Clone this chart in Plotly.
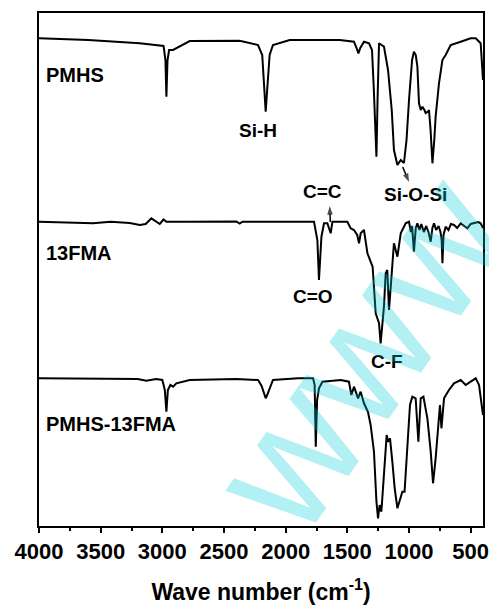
import plotly.graph_objects as go

# ---------------- data (wavenumber cm^-1, transmittance a.u., offset stacked) ----------------
pmhs_wn = [4000, 3600, 3183, 3021, 2990, 2975, 2967, 2958, 2945, 2913, 2880, 2778, 2373, 2224,
           2190, 2175, 2162, 2150, 2130, 2103, 1967, 1562, 1446, 1425, 1410, 1395, 1365, 1324,
           1300, 1285, 1270, 1264, 1255, 1248, 1243, 1203, 1170, 1140, 1122, 1094, 1067, 1041,
           1020, 1000, 975, 960, 945, 932, 919, 905, 891, 875, 865, 850, 838, 825, 810, 795,
           784, 757, 729, 703, 662, 581, 500, 459, 419, 405, 400]
pmhs_t = [487.7, 486, 482.7, 481, 480, 466, 429.3, 466, 476, 476, 478, 485, 485.3, 481,
          471, 436, 414.3, 436, 471, 481, 486, 486, 484.3, 478, 472.7, 478, 484.3, 482.7,
          476, 436, 376, 369.3, 426, 476, 482.7, 479.3, 456, 416, 376, 361, 366, 363,
          386, 426, 466, 474.3, 471, 459.3, 422.7, 416, 419.3, 416, 413, 414, 416, 396, 362.7, 386,
          409.3, 442.7, 466, 471, 481, 484.3, 487.7, 487.7, 482.7, 456, 446]

fma_wn = [4000, 3562, 3419, 3265, 3183, 3135, 3089, 3050, 3021, 2990, 2967, 2800, 2400, 2373,
          2350, 1770, 1743, 1730, 1710, 1689, 1662, 1635, 1621, 1500, 1473, 1446, 1420, 1405,
          1392, 1365, 1337, 1311, 1295, 1270, 1243, 1230, 1203, 1189, 1176, 1162, 1143, 1122,
          1094, 1067, 1027, 1000, 985, 975, 960, 945, 932, 915, 900, 880, 860, 840, 824, 810,
          797, 780, 760, 745, 735, 729, 720, 703, 680, 660, 635, 610, 581, 550, 527, 500,
          473, 440, 419, 405, 400]
fma_t = [304.3, 302.7, 304.3, 303, 301, 302, 307.7, 304, 302, 306.5, 304.3, 304.3, 304.5, 302.5,
         304.3, 304.3, 286, 246, 289.3, 302.7, 302.7, 292.7, 304.3, 304.3, 297.7, 296, 291, 282.7,
         292.7, 296, 272.7, 264.3, 259.3, 212.7, 202.7, 182.7, 219.3, 252.7, 256, 216, 246, 282.7,
         269.3, 292.7, 302.7, 304.3, 294, 300, 274.3, 298, 302.7, 296, 302, 294, 300, 293, 284.3, 298,
         302.7, 296, 300, 294, 286, 262.7, 291, 299.3, 296, 302, 301, 298, 302.7, 300, 297.7, 302,
         302.7, 304, 302.7, 299.3, 298]

mix_wn = [4000, 3500, 3200, 3130, 3050, 3000, 2980, 2967, 2955, 2935, 2913, 2886, 2778, 2400,
          2224, 2195, 2175, 2162, 2150, 2125, 2103, 1900, 1778, 1765, 1756, 1745, 1730, 1702,
          1554, 1487, 1467, 1446, 1413, 1392, 1365, 1333, 1311, 1284, 1264, 1251, 1238, 1224,
          1203, 1181, 1170, 1154, 1135, 1116, 1094, 1073, 1054, 1036, 1013, 992, 973, 946, 924,
          905, 883, 851, 824, 805, 784, 765, 749, 737, 716, 676, 635, 581, 540, 500, 459, 432,
          411, 400]
mix_t = [147.7, 147, 147, 145.3, 147, 146, 136, 114.3, 136, 141, 139.3, 142.7, 146, 147,
         146, 140, 131, 127.7, 131, 140, 146, 147.7, 147.7, 141, 79.3, 126, 137.7, 144.3,
         146, 144.3, 131, 139.3, 127.7, 134.3, 122.7, 114.3, 101, 74.3, 24.3, 7.7, 21, 14.3,
         47.7, 91, 84.3, 87.7, 64.3, 37.7, 17.7, 27.7, 34.3, 34.3, 77.7, 121, 129.3, 127.7, 84.3,
         127.7, 129.3, 107.7, 74.3, 42.7, 67.7, 94.3, 121, 97.7, 127.7, 136, 142.7, 146, 141, 144.3, 147.7, 141,
         117.7, 111]

series_names = ["PMHS", "13FMA", "PMHS-13FMA"]
x_ticks = [4000, 3500, 3000, 2500, 2000, 1500, 1000, 500]

# band-assignment pointer arrows (tail -> head)
cc_arrow_wn = [1638, 1643]
cc_arrow_t = [304, 320]
sio_arrow_wn = [1051, 1000]
sio_arrow_t = [359, 344]

FONT = "Liberation Sans, Arial, sans-serif"

fig = go.Figure()
for name, wn, t in zip(series_names, [pmhs_wn, fma_wn, mix_wn], [pmhs_t, fma_t, mix_t]):
    fig.add_trace(go.Scatter(x=wn, y=t, mode="lines", name=name,
                             line=dict(color="black", width=2), showlegend=False))

for aw, at in [(cc_arrow_wn, cc_arrow_t), (sio_arrow_wn, sio_arrow_t)]:
    fig.add_trace(go.Scatter(x=aw, y=at, mode="lines+markers", showlegend=False, hoverinfo="skip",
                             line=dict(color="black", width=1.5),
                             marker=dict(symbol="arrow", angleref="previous", size=[0, 9],
                                         color="black", line=dict(width=0))))

# trace labels
label_pos = [(3960, 451), (3960, 272.7), (3960, 102)]
for name, (lx, ly) in zip(series_names, label_pos):
    fig.add_annotation(x=lx, y=ly, text=name, showarrow=False, xanchor="left", yanchor="middle",
                       font=dict(family=FONT, size=20, color="black", weight="bold"))

# band labels
bands = [("Si-H", 2222, 396), ("C=C", 1704, 334.3), ("Si-O-Si", 946, 332),
         ("C=O", 1781, 229.3), ("C-F", 1181, 164.3)]
for txt, bx, by in bands:
    fig.add_annotation(x=bx, y=by, text=txt, showarrow=False, xanchor="center", yanchor="middle",
                       font=dict(family=FONT, size=19, color="black", weight="bold"))

# watermark
fig.add_annotation(x=0.724, y=0.336, xref="paper", yref="paper", text="www",
                   showarrow=False, textangle=-55, xanchor="center", yanchor="middle",
                   font=dict(family=FONT, size=175, color="rgba(0,205,215,0.3)"))

fig.update_layout(
    width=489, height=605,
    margin=dict(l=39, r=6, t=13, b=79),
    paper_bgcolor="white", plot_bgcolor="white",
    xaxis=dict(range=[4000, 400], tickvals=x_ticks, ticks="outside", ticklen=5, tickwidth=1.5,
               tickcolor="black", showline=True, linecolor="black", linewidth=2, mirror=True,
               showgrid=False, zeroline=False, automargin=False, ticklabeloverflow="allow",
               minor=dict(dtick=250, ticks="outside", ticklen=3, tickwidth=1.5, tickcolor="black",
                          showgrid=False),
               tickfont=dict(family=FONT, size=22, color="black", weight="bold"),
               title=dict(text="Wave number (cm<sup>-1</sup>)", standoff=26,
                          font=dict(family=FONT, size=23, color="black", weight="bold"))),
    yaxis=dict(range=[0, 513], showticklabels=False, ticks="", showline=True, linecolor="black",
               linewidth=2, mirror=True, showgrid=False, zeroline=False, automargin=False),
)

fig.write_html("out.html")
